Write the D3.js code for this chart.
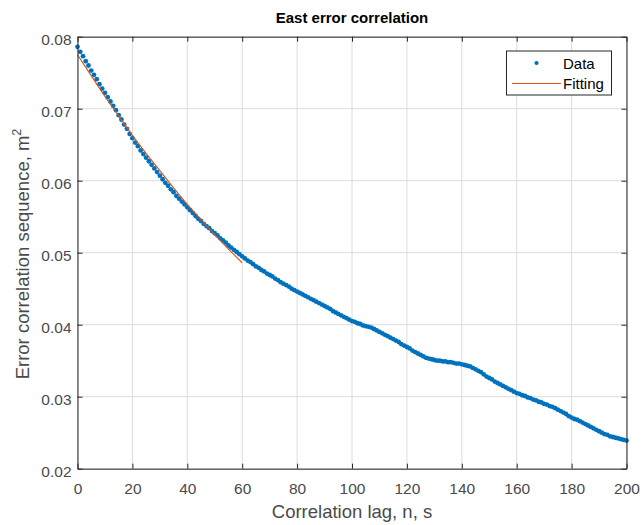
<!DOCTYPE html>
<html>
<head>
<meta charset="utf-8">
<script src="https://cdn.jsdelivr.net/npm/d3@7"></script>
<style>
  html, body { margin: 0; padding: 0; background: #fff; }
  svg { display: block; font-family: "Liberation Sans", Arial, Helvetica, sans-serif; }
</style>
</head>
<body>
<svg id="chart" width="642" height="525"></svg>
<script>
// Autocorrelation of the east-component error, one value per lag (s)
const lagValues = d3.range(0, 201);
const corrValues = [
  0.0786, 0.0779, 0.0773, 0.0766, 0.0760, 0.0753, 0.0747, 0.0741, 0.0734, 0.0728,
  0.0722, 0.0716, 0.0710, 0.0704, 0.0698, 0.0691, 0.0685, 0.0678, 0.0672, 0.0665,
  0.0659, 0.0653, 0.0648, 0.0642, 0.0637, 0.0632, 0.0627, 0.0622, 0.0617, 0.0612,
  0.0607, 0.0602, 0.0597, 0.0593, 0.0588, 0.0584, 0.0579, 0.0575, 0.0571, 0.0567,
  0.0563, 0.0559, 0.0555, 0.0551, 0.0547, 0.0544, 0.0540, 0.0537, 0.0534, 0.0530,
  0.0527, 0.0524, 0.0520, 0.0517, 0.0514, 0.0510, 0.0507, 0.0504, 0.0501, 0.0498,
  0.0495, 0.0492, 0.0489, 0.0487, 0.0484, 0.0481, 0.0479, 0.0476, 0.0474, 0.0471,
  0.0469, 0.0467, 0.0464, 0.0462, 0.0459, 0.0457, 0.0455, 0.0453, 0.0450, 0.0448,
  0.0446, 0.0444, 0.0442, 0.0440, 0.0438, 0.0436, 0.0434, 0.0432, 0.0430, 0.0428,
  0.0426, 0.0424, 0.0422, 0.0419, 0.0417, 0.0415, 0.0413, 0.0411, 0.0409, 0.0407,
  0.0405, 0.0404, 0.0402, 0.0401, 0.0399, 0.0398, 0.0397, 0.0396, 0.0394, 0.0392,
  0.0390, 0.0388, 0.0386, 0.0384, 0.0382, 0.0380, 0.0378, 0.0376, 0.0373, 0.0371,
  0.0369, 0.0367, 0.0364, 0.0362, 0.0360, 0.0358, 0.0356, 0.0354, 0.0353, 0.0352,
  0.0351, 0.0350, 0.0350, 0.0349, 0.0349, 0.0348, 0.0348, 0.0347, 0.0346, 0.0346,
  0.0345, 0.0344, 0.0343, 0.0342, 0.0340, 0.0338, 0.0336, 0.0334, 0.0331, 0.0328,
  0.0326, 0.0324, 0.0321, 0.0319, 0.0317, 0.0315, 0.0313, 0.0311, 0.0309, 0.0307,
  0.0305, 0.0304, 0.0302, 0.0301, 0.0299, 0.0298, 0.0296, 0.0295, 0.0293, 0.0292,
  0.0290, 0.0289, 0.0287, 0.0286, 0.0284, 0.0282, 0.0280, 0.0278, 0.0276, 0.0273,
  0.0271, 0.0269, 0.0268, 0.0266, 0.0264, 0.0262, 0.0260, 0.0258, 0.0256, 0.0254,
  0.0252, 0.0250, 0.0248, 0.0247, 0.0245, 0.0244, 0.0243, 0.0242, 0.0241, 0.0240,
  0.0239
];

// Fitted curve over the first 60 lags
const fitLags = [0, 5, 10, 15, 20, 25, 30, 35, 40, 45, 50, 55, 60];
const fitValues = [0.0775, 0.0746, 0.0717, 0.0690, 0.0663, 0.0638, 0.0614,
                   0.0590, 0.0567, 0.0546, 0.0525, 0.0505, 0.0486];

const xTicks = [0, 20, 40, 60, 80, 100, 120, 140, 160, 180, 200];
const yTicks = [0.02, 0.03, 0.04, 0.05, 0.06, 0.07, 0.08];

const titleText = "East error correlation";
const xLabelText = "Correlation lag, n, s";
const yLabelText = "Error correlation sequence, m";
const legendLabels = ["Data", "Fitting"];

const blue = "#0072BD";
const orange = "#D95319";
const axisColor = "#262626";
const labelColor = "#4a4a4a";

const svg = d3.select("#chart");
const plotLeft = 77.5, plotRight = 626.5, plotTop = 36.7, plotBottom = 468.7;

const x = d3.scaleLinear().domain([0, 200]).range([plotLeft, plotRight]);
const y = d3.scaleLinear().domain([0.02, 0.08]).range([plotBottom, plotTop]);

// Grid
const grid = svg.append("g");
grid.selectAll("line.gx").data(xTicks).join("line")
  .attr("class", "gx")
  .attr("x1", d => x(d)).attr("x2", d => x(d))
  .attr("y1", plotTop).attr("y2", plotBottom)
  .attr("stroke", "#dcdcdc").attr("stroke-width", 1);
grid.selectAll("line.gy").data(yTicks).join("line")
  .attr("class", "gy")
  .attr("y1", d => y(d)).attr("y2", d => y(d))
  .attr("x1", plotLeft).attr("x2", plotRight)
  .attr("stroke", "#dcdcdc").attr("stroke-width", 1);

// Data markers
svg.append("g").selectAll("circle").data(lagValues).join("circle")
  .attr("cx", d => x(d))
  .attr("cy", (d, i) => y(corrValues[i]))
  .attr("r", 2.4)
  .attr("fill", blue);

// Fitting line
const fitLine = d3.line().x(d => x(d[0])).y(d => y(d[1])).curve(d3.curveMonotoneX);
svg.append("path")
  .datum(fitLags.map((l, i) => [l, fitValues[i]]))
  .attr("d", fitLine)
  .attr("fill", "none")
  .attr("stroke", orange)
  .attr("stroke-width", 1.1);

// Axes (ticks inward, box on all sides)
const tickLen = 5;
const fmtY = d3.format(".2f");
const xAxisB = d3.axisBottom(x).tickValues(xTicks).tickSizeInner(-tickLen).tickSizeOuter(0).tickPadding(14);
const xAxisT = d3.axisTop(x).tickValues(xTicks).tickSizeInner(-tickLen).tickSizeOuter(0).tickFormat("");
const yAxisL = d3.axisLeft(y).tickValues(yTicks).tickSizeInner(-tickLen).tickSizeOuter(0).tickPadding(6).tickFormat(fmtY);
const yAxisR = d3.axisRight(y).tickValues(yTicks).tickSizeInner(-tickLen).tickSizeOuter(0).tickFormat("");

function styleAxis(g) {
  g.select(".domain").attr("stroke", axisColor).attr("stroke-width", 1);
  g.selectAll(".tick line").attr("stroke", axisColor);
  g.selectAll(".tick text").attr("fill", labelColor)
    .style("font-size", "15.5px")
    .style("font-family", "'Liberation Sans', Arial, Helvetica, sans-serif");
}
svg.append("g").attr("transform", `translate(0,${plotBottom})`).call(xAxisB).call(styleAxis);
svg.append("g").attr("transform", `translate(0,${plotTop})`).call(xAxisT).call(styleAxis);
svg.append("g").attr("transform", `translate(${plotLeft},0)`).call(yAxisL).call(styleAxis)
  .selectAll(".tick text").attr("dy", "0.52em");
svg.append("g").attr("transform", `translate(${plotRight},0)`).call(yAxisR).call(styleAxis);

// Title and axis labels
svg.append("text")
  .attr("x", (plotLeft + plotRight) / 2).attr("y", 23)
  .attr("text-anchor", "middle")
  .attr("font-size", "15px").attr("font-weight", "bold")
  .attr("fill", "#000")
  .text(titleText);

svg.append("text")
  .attr("x", (plotLeft + plotRight) / 2).attr("y", 518)
  .attr("text-anchor", "middle")
  .attr("font-size", "18.5px").attr("fill", labelColor)
  .text(xLabelText);

const yl = svg.append("text")
  .attr("transform", `translate(28.5,254) rotate(-90)`)
  .attr("text-anchor", "middle")
  .attr("font-size", "18.5px").attr("fill", labelColor);
yl.append("tspan").text(yLabelText);
yl.append("tspan").attr("dy", -8).attr("font-size", "12.5px").text("2");

// Legend
const lg = svg.append("g");
lg.append("rect")
  .attr("x", 506.5).attr("y", 51).attr("width", 105).attr("height", 44)
  .attr("fill", "#fff").attr("stroke", axisColor).attr("stroke-width", 1);
lg.append("circle").attr("cx", 536.5).attr("cy", 63).attr("r", 2.1).attr("fill", blue);
lg.append("line").attr("x1", 512).attr("x2", 561).attr("y1", 83.5).attr("y2", 83.5)
  .attr("stroke", orange).attr("stroke-width", 1.1);
lg.selectAll("text").data(legendLabels).join("text")
  .attr("x", 563).attr("y", (d, i) => 68.5 + i * 20)
  .attr("font-size", "15px").attr("fill", "#000")
  .text(d => d);
</script>
</body>
</html>
